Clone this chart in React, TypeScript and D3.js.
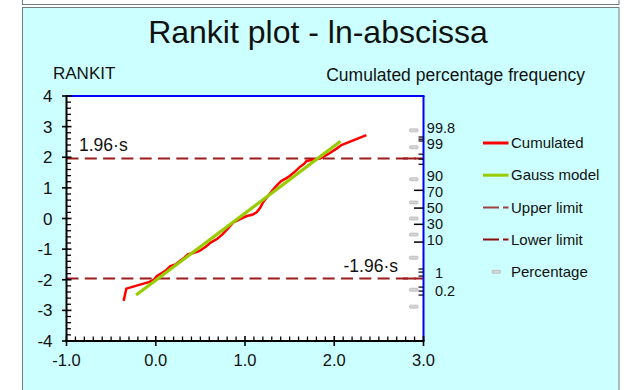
import React from "react";
import * as d3 from "d3";

// Rankit axis ticks and bottom (ln) axis ticks
const xTicks = [-1.0, 0.0, 1.0, 2.0, 3.0];
const yTicks = [-4, -3, -2, -1, 0, 1, 2, 3, 4];

// Cumulated sample (ln value, rankit)
const cumX = [-0.36, -0.33, -0.07, -0.02, 0.01, 0.08, 0.12, 0.16, 0.22, 0.27, 0.32, 0.36, 0.43, 0.49, 0.56, 0.62, 0.69, 0.75, 0.81, 0.87, 0.94, 1.02, 1.08, 1.13, 1.17, 1.2, 1.26, 1.32, 1.37, 1.41, 1.46, 1.5, 1.56, 1.61, 1.66, 1.69, 1.76, 1.84, 1.93, 2.03, 2.08, 2.36];
const cumY = [-2.69, -2.29, -2.07, -2.0, -1.88, -1.76, -1.68, -1.56, -1.5, -1.39, -1.28, -1.17, -1.12, -1.06, -0.92, -0.78, -0.66, -0.51, -0.32, -0.13, -0.03, 0.08, 0.12, 0.2, 0.35, 0.52, 0.74, 0.96, 1.12, 1.23, 1.31, 1.39, 1.53, 1.67, 1.78, 1.88, 1.92, 1.96, 2.1, 2.29, 2.4, 2.72];

// Fitted Gauss model (straight line in rankit space)
const gaussX = [-0.22, 2.07];
const gaussY = [-2.5, 2.52];

// Control limits at +/- 1.96 s
const limits = [1.96, -1.96];

// Percentage scale on the right-hand axis
const pctValues = [99.8, 99, 90, 70, 50, 30, 10, 1, 0.2];
const pctLabels = ["99.8", "99", "90", "70", "50", "30", "10", "1", "0.2"];
const pctLabelRankit = [2.95, 2.43, 1.38, 0.86, 0.34, -0.19, -0.71, -1.79, -2.38];
const pctMajorRankit = [0.92, 0.34, -0.19, -0.77];
const pctMinorRankit = [2.66, 2.59, 2.53, 2.1, 1.94, 1.77, -1.65, -1.75, -1.88, -2.24, -2.37, -2.5];

const legendItems = ["Cumulated", "Gauss model", "Upper limit", "Lower limit", "Percentage"];

// Inverse of the standard normal CDF (Acklam's rational approximation)
function probit(p: number): number {
  const a = [-39.69683028665376, 220.9460984245205, -275.9285104469687, 138.357751867269, -30.66479806614716, 2.506628277459239];
  const b = [-54.47609879822406, 161.5858368580409, -155.6989798598866, 66.80131188771972, -13.28068155288572];
  const c = [-0.007784894002430293, -0.3223964580411365, -2.400758277161838, -2.549732539343734, 4.374664141464968, 2.938163982698783];
  const d = [0.007784695709041462, 0.3224671290700398, 2.445134137142996, 3.754408661907416];
  const pl = 0.02425;
  if (p < pl) {
    const q = Math.sqrt(-2 * Math.log(p));
    return (((((c[0] * q + c[1]) * q + c[2]) * q + c[3]) * q + c[4]) * q + c[5]) / ((((d[0] * q + d[1]) * q + d[2]) * q + d[3]) * q + 1);
  }
  if (p > 1 - pl) {
    const q = Math.sqrt(-2 * Math.log(1 - p));
    return -(((((c[0] * q + c[1]) * q + c[2]) * q + c[3]) * q + c[4]) * q + c[5]) / ((((d[0] * q + d[1]) * q + d[2]) * q + d[3]) * q + 1);
  }
  const q = p - 0.5;
  const r = q * q;
  return ((((((a[0] * r + a[1]) * r + a[2]) * r + a[3]) * r + a[4]) * r + a[5]) * q) / (((((b[0] * r + b[1]) * r + b[2]) * r + b[3]) * r + b[4]) * r + 1);
}

const W = 628;
const H = 390;
const FONT = "'Liberation Sans', Arial, sans-serif";

export default function App() {
  const x = d3.scaleLinear().domain([-1, 3]).range([66.5, 423.5]);
  const y = d3.scaleLinear().domain([-4, 4]).range([341, 96]);
  const [x0, x1] = x.range();
  const [yb, yt] = y.range();

  const line = d3
    .line<[number, number]>()
    .x((d) => x(d[0]))
    .y((d) => y(d[1]));

  const cumPts = cumX.map((v, i) => [v, cumY[i]] as [number, number]);
  const gaussPts = gaussX.map((v, i) => [v, gaussY[i]] as [number, number]);

  const yMinor = d3.range(-4, 4.0001, 0.2).filter((v) => Math.abs(v - Math.round(v)) > 1e-6);
  const xMinor = d3.range(-1, 3.0001, 0.1).filter((v) => Math.abs(v - Math.round(v)) > 1e-6);

  const limitColor = "#9b1c1c";
  const legendX = 483;
  const legendY = (i: number) => 143 + i * 32.2;

  return (
    <div style={{ position: "fixed", left: 0, top: 0 }}>
      <svg width={W} height={H} style={{ display: "block", fontFamily: FONT }}>
        <rect x={0} y={0} width={W} height={H} fill="#ffffff" />
        {/* frame strip above the panel */}
        <rect x={22.5} y={-5} width={596.5} height={9.5} fill="#ffffff" stroke="#6f7f80" strokeWidth={1} />
        {/* chart panel */}
        <rect x={22.5} y={7.5} width={596.5} height={H} fill="#ccffff" stroke="#6f7f80" strokeWidth={1} />

        <text x={318} y={43} textAnchor="middle" fontSize={32} fill="#111">
          Rankit plot - ln-abscissa
        </text>
        <text x={53} y={79} fontSize={17} fill="#111">RANKIT</text>
        <text x={585} y={81} textAnchor="end" fontSize={17.5} fill="#111">
          Cumulated percentage frequency
        </text>

        {/* plot area */}
        <rect x={x0} y={yt} width={x1 - x0} height={yb - yt} fill="#ffffff" />

        {/* limits */}
        {limits.map((l) => (
          <line key={l} x1={x0} x2={x1} y1={y(l)} y2={y(l)} stroke={limitColor} strokeWidth={2} strokeDasharray="12,6.3" />
        ))}
        <text x={79} y={y(limits[0]) - 7} fontSize={17.5} fill="#111">1.96·s</text>
        <text x={398} y={y(limits[1]) - 7} textAnchor="end" fontSize={17.5} fill="#111">-1.96·s</text>

        {/* data */}
        <path d={line(cumPts) || ""} fill="none" stroke="#ff0000" strokeWidth={2.5} strokeLinejoin="miter" />
        <path d={line(gaussPts) || ""} fill="none" stroke="#99cc00" strokeWidth={3.2} strokeLinecap="butt" />

        {/* frame of plot: top and right in blue */}
        <line x1={x0} x2={x1 + 1} y1={yt} y2={yt} stroke="#0000ff" strokeWidth={2} />
        <line x1={x1} x2={x1} y1={yt} y2={yb} stroke="#0000ff" strokeWidth={2} />

        {/* right-hand percentage ticks */}
        {pctValues.map((p) => (
          <rect key={"g" + p} x={409.5} y={y(probit(p / 100)) - 1.5} width={8.5} height={3} rx={1} fill="#d6d6d6" stroke="#a8a8a8" strokeWidth={0.6} />
        ))}
        {pctMajorRankit.map((r) => (
          <line key={"M" + r} x1={414} x2={x1} y1={y(r)} y2={y(r)} stroke="#000" strokeWidth={1.5} />
        ))}
        {pctMinorRankit.map((r) => (
          <line key={"m" + r} x1={418.5} x2={x1} y1={y(r)} y2={y(r)} stroke="#000" strokeWidth={1.2} />
        ))}
        {limits.map((l) => (
          <line key={"lt" + l} x1={403} x2={416} y1={y(l)} y2={y(l)} stroke={limitColor} strokeWidth={2} />
        ))}
        {pctLabels.map((t, i) => {
          const [ip, fp] = t.split(".");
          const yy = y(pctLabelRankit[i]);
          return (
            <g key={"pl" + t} fontSize={14.5} fill="#111">
              <text x={443} y={yy} dy="0.35em" textAnchor="end">{ip}</text>
              {fp !== undefined && (
                <text x={443} y={yy} dy="0.35em">{"." + fp}</text>
              )}
            </g>
          );
        })}

        {/* left axis */}
        <line x1={x0} x2={x0} y1={yt - 1} y2={yb + 1} stroke="#000" strokeWidth={2} />
        {yMinor.map((v) => (
          <line key={"ym" + v} x1={x0} x2={x0 + 4.5} y1={y(v)} y2={y(v)} stroke="#000" strokeWidth={1.3} />
        ))}
        {yTicks.map((v) => (
          <g key={"y" + v}>
            <line x1={x0 - 4.5} x2={x0 + 5} y1={y(v)} y2={y(v)} stroke="#000" strokeWidth={1.6} />
            <text x={52.5} y={y(v)} dy="0.36em" textAnchor="end" fontSize={17} fill="#111">
              {v}
            </text>
          </g>
        ))}

        {/* bottom axis */}
        <line x1={x0 - 1} x2={x1 + 1} y1={yb} y2={yb} stroke="#000" strokeWidth={2} />
        {xMinor.map((v) => (
          <line key={"xm" + v} x1={x(v)} x2={x(v)} y1={yb} y2={yb - 4.5} stroke="#000" strokeWidth={1.3} />
        ))}
        {xTicks.map((v) => (
          <g key={"x" + v}>
            <line x1={x(v)} x2={x(v)} y1={yb - 5} y2={yb + 5} stroke="#000" strokeWidth={1.6} />
            <text x={x(v)} y={yb + 25} textAnchor="middle" fontSize={16.5} fill="#111">
              {d3.format(".1f")(v).replace("−", "-")}
            </text>
          </g>
        ))}

        {/* legend */}
        <line x1={legendX} x2={legendX + 25.5} y1={legendY(0)} y2={legendY(0)} stroke="#ff0000" strokeWidth={3} />
        <line x1={legendX} x2={legendX + 25.5} y1={legendY(1)} y2={legendY(1)} stroke="#99cc00" strokeWidth={3} />
        <line x1={legendX} x2={legendX + 25.5} y1={legendY(2)} y2={legendY(2)} stroke="#a04040" strokeWidth={2} strokeDasharray="16,4,6" />
        <line x1={legendX} x2={legendX + 25.5} y1={legendY(3)} y2={legendY(3)} stroke="#8b0f0f" strokeWidth={2} strokeDasharray="16,4,6" />
        <rect x={legendX + 9} y={legendY(4) - 1.5} width={8.5} height={3} rx={1} fill="#d6d6d6" stroke="#a8a8a8" strokeWidth={0.6} />
        {legendItems.map((t, i) => (
          <text key={t} x={511} y={legendY(i)} dy="0.35em" fontSize={15} fill="#111">
            {t}
          </text>
        ))}
      </svg>
    </div>
  );
}
